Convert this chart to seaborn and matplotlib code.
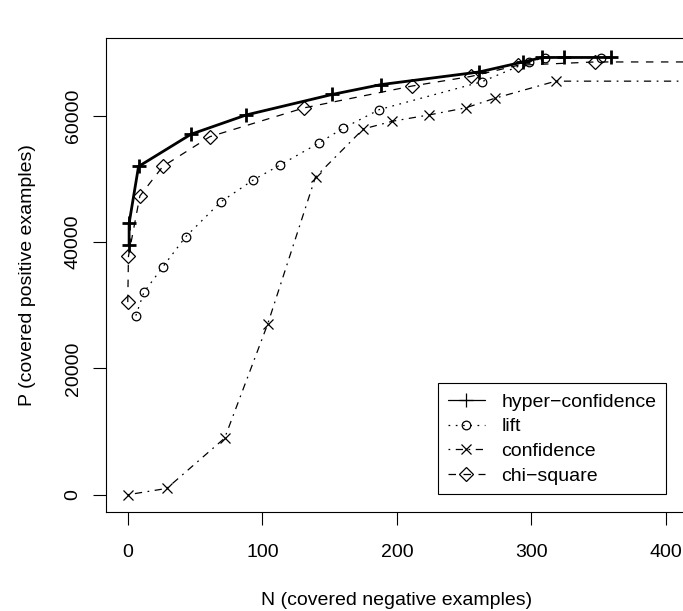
import matplotlib
matplotlib.use("Agg")
import matplotlib.pyplot as plt
import seaborn as sns

# values
hyper_n = [1, 1, 8, 47, 88, 152, 188, 261, 294, 308, 324, 359]
hyper_p = [39600, 42950, 51950, 57050, 60100, 63350, 64900, 66900, 68500, 69200, 69200, 69200]

lift_n = [6, 12, 26, 43, 69, 93, 113, 142, 160, 187, 263, 298, 310, 352]
lift_p = [28350, 32050, 36050, 40820, 46330, 49780, 52160, 55660, 57990, 60960,
          65350, 68490, 69180, 69180]

# last point of confidence / chi-square lies past the right edge of the panel
conf_n = [0, 29, 72, 104, 139.5, 175, 196.5, 224, 251, 273, 318, 440]
conf_p = [0, 1000, 8960, 27030, 50290, 57880, 59100, 60110, 61220, 62760, 65450, 65450]

chi_n = [0, 0.5, 9, 26, 61, 131, 211, 255, 290, 347, 440]
chi_p = [30480, 37740, 47280, 51950, 56660, 61220, 64670, 66200, 67960, 68490, 68490]

x_ticks = [0, 100, 200, 300, 400]
x_tick_labels = ["0", "100", "200", "300", "400"]
y_ticks = [0, 20000, 40000, 60000]
y_tick_labels = ["0", "20000", "40000", "60000"]

sns.set_style("white")
plt.rcParams['font.family'] = ['Liberation Sans', 'DejaVu Sans']
plt.rcParams['font.size'] = 14
plt.rcParams['text.color'] = 'black'
plt.rcParams['axes.labelcolor'] = 'black'

fig = plt.figure(figsize=(6.83, 6.11), dpi=100)
ax = fig.add_axes([105.7 / 683, (611 - 512.3) / 611, (687.6 - 105.7) / 683, (512.3 - 38) / 611])

# hyper-confidence: thick solid line with +
sns.lineplot(x=hyper_n, y=hyper_p, ax=ax, estimator=None, sort=False,
             color="black", linewidth=2.0, linestyle="-",
             marker="+", markersize=10, markeredgewidth=2.0,
             markeredgecolor="black", label="hyper\u2212confidence")

# lift: dotted with open circles
sns.lineplot(x=lift_n, y=lift_p, ax=ax, estimator=None, sort=False,
             color="black", linewidth=0.9, linestyle=(0, (1.4, 4.4)),
             marker="o", markersize=6.2, markeredgewidth=0.9,
             markerfacecolor="none", markeredgecolor="black", label="lift")

# confidence: dot-dash with x
sns.lineplot(x=conf_n, y=conf_p, ax=ax, estimator=None, sort=False,
             color="black", linewidth=0.9, linestyle=(0, (1.4, 4.4, 5.8, 4.4)),
             marker="x", markersize=7.5, markeredgewidth=0.9,
             markeredgecolor="black", label="confidence")

# chi-square: dashed with diamonds
sns.lineplot(x=chi_n, y=chi_p, ax=ax, estimator=None, sort=False,
             color="black", linewidth=0.9, linestyle=(0, (6.0, 6.0)),
             marker="D", markersize=6.8, markeredgewidth=0.9,
             markerfacecolor="none", markeredgecolor="black", label="chi\u2212square")

ax.set_xlim(-16.4, 416)
ax.set_ylim(-2780, 72280)

ax.set_xticks(x_ticks)
ax.set_xticklabels(x_tick_labels)
ax.set_yticks(y_ticks)
ax.set_yticklabels(y_tick_labels, rotation=90, va="center")

for s in ax.spines.values():
    s.set_visible(True)
    s.set_color("black")
    s.set_linewidth(0.8)

ax.tick_params(axis="both", which="both", direction="out", length=9.4, width=0.8,
               color="black", labelsize=14, labelcolor="black")
ax.tick_params(axis="x", bottom=True, top=False, pad=13.5)
ax.tick_params(axis="y", left=True, right=False, pad=8)

ax.set_xlabel("N (covered negative examples)", fontsize=14, color="black")
ax.set_ylabel("P (covered positive examples)", fontsize=14, color="black")
ax.xaxis.label.set_va("center")
ax.yaxis.label.set_va("center")
ax.xaxis.set_label_coords(0.5, -0.185)
ax.yaxis.set_label_coords(-0.135, 0.5)

leg = ax.legend(loc="lower right", bbox_to_anchor=(666 / 683, (611 - 494.3) / 611),
                bbox_transform=fig.transFigure, borderaxespad=0,
                frameon=True, fancybox=False, shadow=False, framealpha=1,
                edgecolor="black", fontsize=14, numpoints=1,
                handlelength=1.9, handletextpad=0.85, labelspacing=0.36,
                borderpad=0.5)
leg.get_frame().set_linewidth(0.8)
for t in leg.get_texts():
    t.set_color("black")
# legend key for hyper-confidence is drawn with the default thin line in the reference
leg.legend_handles[0].set_linewidth(0.9)
leg.legend_handles[0].set_markeredgewidth(0.9)

plt.savefig("out.png", dpi=100)
